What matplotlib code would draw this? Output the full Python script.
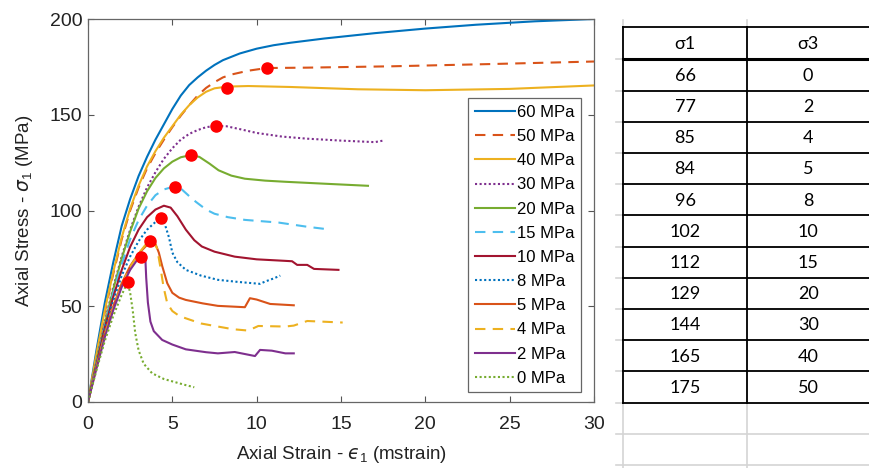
import numpy as np
import matplotlib
matplotlib.use("Agg")
import matplotlib.pyplot as plt

plt.rcParams['font.family'] = ['Liberation Sans', 'DejaVu Sans']
plt.rcParams['mathtext.fontset'] = 'custom'
plt.rcParams['mathtext.rm'] = 'Liberation Sans'
plt.rcParams['mathtext.it'] = 'DejaVu Sans:italic'

# ================= CURVE DATA (strain mstrain, stress MPa) =================
labels = ["60 MPa", "50 MPa", "40 MPa", "30 MPa", "20 MPa", "15 MPa",
          "10 MPa", "8 MPa", "5 MPa", "4 MPa", "2 MPa", "0 MPa"]

strain_60 = [0, 0.5, 1, 1.5, 2, 2.5, 3, 3.5, 4, 4.5, 5, 5.5, 6, 6.5, 7, 7.5, 8, 9, 10, 11, 12, 14, 17, 20, 23, 26.5, 30]
stress_60 = [0, 27, 52, 73, 92, 106, 118, 128, 137, 145, 153, 160, 165.5, 169.5, 173, 176, 178.5, 182, 184.5, 186.3, 187.6, 189.8, 192.6, 195, 197, 198.8, 200]

strain_50 = [0, 0.5, 1, 1.5, 2, 2.5, 3, 3.5, 4, 4.5, 5, 5.5, 6, 6.5, 7, 7.5, 8, 8.5, 9.5, 10.6, 13, 18, 24, 30]
stress_50 = [0, 24.5, 47, 67, 85, 100, 112, 122, 130, 137, 143.5, 149.5, 155, 160, 164, 167, 169.5, 171, 173, 174.4, 174.6, 175.3, 176.5, 177.8]

strain_40 = [0, 0.5, 1, 1.5, 2, 2.5, 3, 3.5, 4, 4.5, 5, 5.5, 6, 6.5, 7, 7.5, 8.25, 9.5, 12, 16, 20, 25, 30]
stress_40 = [0, 25, 48, 68, 86, 101, 113, 123, 131, 138, 144, 150, 155, 159, 162, 163.8, 164.7, 165, 164.5, 163.3, 162.8, 163.5, 165.3]

strain_30 = [0, 0.5, 1, 1.5, 2, 2.5, 3, 3.5, 4, 4.5, 5, 5.5, 6, 6.5, 7, 7.56, 8.2, 9, 10, 11.5, 13, 15, 17, 17.5]
stress_30 = [0, 21, 42, 60, 76, 90, 102, 112, 120, 127, 132.5, 137, 140, 142, 143.5, 144.2, 144, 142.5, 140.5, 138.6, 137.5, 136.5, 135.7, 136.5]

strain_20 = [0, 0.5, 1, 1.5, 2, 2.5, 3, 3.5, 4, 4.5, 5, 5.5, 6.08, 6.6, 7.2, 7.74, 8.5, 9.3, 10.5, 11.7, 14, 16.6]
stress_20 = [0, 21, 41, 59, 75, 89, 101, 110, 117, 122, 125.5, 127.8, 128.9, 128, 124.5, 121, 118.2, 116.6, 115.6, 115, 114, 112.9]

strain_15 = [0, 0.5, 1, 1.5, 2, 2.5, 3, 3.5, 4, 4.5, 5.1, 5.5, 6, 6.4, 7, 7.5, 8.3, 9.3, 11.3, 13, 14.4]
stress_15 = [0, 20, 40, 57, 72, 85, 95, 102.5, 108, 111, 112.5, 111.5, 107.5, 104.5, 100.5, 98.3, 96.5, 95.1, 93.7, 91.5, 90]

strain_10 = [0, 0.5, 1, 1.5, 2, 2.5, 3, 3.5, 4, 4.5, 4.9, 5.3, 5.8, 6.3, 6.75, 7.5, 8.7, 10, 11.7, 12.1, 12.4, 13.0, 13.4, 14.85]
stress_10 = [0, 19.5, 39, 55, 69, 81, 90, 96.5, 100.5, 102.5, 101.5, 97, 90, 84.5, 81.2, 78.5, 75.9, 74.5, 73.7, 73.5, 71.6, 71.6, 69.5, 69]

strain_8 = [0, 0.5, 1, 1.5, 2, 2.5, 3, 3.5, 4, 4.3, 4.55, 4.8, 5.0, 5.3, 5.8, 6.7, 7.7, 8.9, 10.2, 10.5, 11.0, 11.4]
stress_8 = [0, 19, 38, 53, 66, 76, 84, 90, 94, 96, 93, 86, 78, 73, 69, 66, 63.8, 62.7, 61.7, 62.9, 64.5, 66]

strain_5 = [0, 0.5, 1, 1.5, 2, 2.5, 3, 3.5, 3.8, 4.0, 4.2, 4.4, 4.7, 5.0, 5.4, 5.8, 6.8, 7.7, 9.3, 9.6, 10.0, 10.8, 12.2]
stress_5 = [0, 18.5, 36, 50, 62, 71, 77.5, 82, 83.5, 82.5, 78, 71, 62, 57, 54.5, 53.3, 51.5, 50.2, 49.5, 54.2, 53.5, 51.2, 50.5]

strain_4 = [0, 0.5, 1, 1.5, 2, 2.5, 3, 3.4, 3.65, 3.9, 4.1, 4.3, 4.48, 4.7, 5.0, 5.4, 5.8, 6.7, 7.7, 8.6, 9.5, 10.1, 11.7, 12.2, 13.0, 15.1]
stress_4 = [0, 18, 35, 49, 61, 70.5, 77.5, 82, 84.3, 84, 80, 70, 60, 51.5, 47.5, 45, 43.7, 41, 39.4, 38, 37.3, 39.7, 39.4, 39.9, 42.3, 41.5]

strain_2 = [0, 0.5, 1, 1.5, 2, 2.5, 2.9, 3.2, 3.4, 3.45, 3.55, 3.7, 3.9, 4.4, 5.0, 5.8, 7.0, 7.7, 8.7, 9.9, 10.2, 10.9, 11.7, 12.2]
stress_2 = [0, 17.5, 34, 48, 60, 69, 74, 76, 75, 65, 52, 42, 37, 32.4, 30, 27.5, 26, 25.4, 26.1, 24, 27.2, 26.8, 25.4, 25.4]

strain_0 = [0, 0.5, 1, 1.5, 2, 2.35, 2.5, 2.65, 2.8, 3.0, 3.3, 3.8, 4.5, 5.76, 6.3]
stress_0 = [0, 16.5, 32, 45, 56, 62.5, 57, 48, 36, 27, 20, 15, 12, 8.9, 7.7]

# peak points (red dots)
peak_strain = [2.35, 3.16, 3.65, 4.30, 5.13, 6.08, 7.56, 8.25, 10.6]
peak_stress = [62.5, 75.9, 84.3, 96.0, 112.5, 128.9, 144.2, 163.9, 174.4]

# ================= TABLE DATA =================
table_header = ["σ1", "σ3"]
sigma1_vals = [66, 77, 85, 84, 96, 102, 112, 129, 144, 165, 175]
sigma3_vals = [0, 2, 4, 5, 8, 10, 15, 20, 30, 40, 50]

# ================= STYLE =================
c_blue, c_orange, c_yellow = "#0072BD", "#D95319", "#EDB120"
c_purple, c_green, c_lblue, c_red = "#7E2F8E", "#77AC30", "#4DBEEE", "#A2142F"
dash = (0, (5, 3.5))
dot = (0, (1, 1.2))

series = [
    (strain_60, stress_60, c_blue, "-"),
    (strain_50, stress_50, c_orange, dash),
    (strain_40, stress_40, c_yellow, "-"),
    (strain_30, stress_30, c_purple, dot),
    (strain_20, stress_20, c_green, "-"),
    (strain_15, stress_15, c_lblue, dash),
    (strain_10, stress_10, c_red, "-"),
    (strain_8, stress_8, c_blue, dot),
    (strain_5, stress_5, c_orange, "-"),
    (strain_4, stress_4, c_yellow, dash),
    (strain_2, stress_2, c_purple, "-"),
    (strain_0, stress_0, c_green, dot),
]

fig = plt.figure(figsize=(8.69, 4.68), dpi=100)
ax = fig.add_axes([88 / 869, 66 / 468, 506 / 869, 383 / 468])

for (sx, sy, col, ls), lab in zip(series, labels):
    ax.plot(sx, sy, color=col, linestyle=ls, lw=1.5, label=lab)

ax.plot(peak_strain, peak_stress, "o", color="#FF0000", ms=8, zorder=5)

ax.set_xlim(0, 30)
ax.set_ylim(0, 200)
ax.set_xticks(np.arange(0, 31, 5))
ax.set_yticks(np.arange(0, 201, 50))
ax.tick_params(direction="in", top=True, right=True, length=4, width=0.8,
               labelsize=14, colors="#555555", labelcolor="#222222", pad=4)
ax.tick_params(axis="x", pad=10)
for sp in ax.spines.values():
    sp.set_color("#666666")
    sp.set_linewidth(0.9)

ax.set_xlabel("Axial Strain - $\u03f5_1$ (mstrain)", fontsize=13.5, color="#222222", labelpad=8)
ax.set_ylabel(r"Axial Stress - $\sigma_1$ (MPa)", fontsize=13.5, color="#222222", labelpad=11)

leg = ax.legend(loc="lower right", bbox_to_anchor=(0.975, 0.025), borderaxespad=0,
                fontsize=12, handlelength=2.4, handletextpad=0.15, labelspacing=0.55,
                borderpad=0.4, fancybox=False, framealpha=1)
leg.get_frame().set_edgecolor("#666666")
leg.get_frame().set_linewidth(0.9)

# ================= TABLE (pixel coords overlay) =================
tx = fig.add_axes([0, 0, 1, 1])
tx.set_xlim(0, 869)
tx.set_ylim(468, 0)
tx.axis("off")

x_left, x_mid, x_right = 622.7, 747.3, 869
y_top, y_head = 27.3, 59.3
row_h = 31.2
n_rows = len(sigma1_vals)
grey = "#d4d4d4"

# excel-like grid lines
for k in range(n_rows + 3):
    y = y_head + k * row_h
    tx.plot([616, x_right], [y, y], color=grey, lw=1.2)
for x in (x_left, x_mid):
    tx.plot([x, x], [20, 468], color=grey, lw=1.2)

# black table borders
tx.plot([x_left, x_right], [y_top, y_top], color="black", lw=1.3)
tx.plot([x_left, x_right], [y_head, y_head], color="black", lw=2.2)
for k in range(1, n_rows + 1):
    y = y_head + k * row_h
    tx.plot([x_left, x_right], [y, y], color="black", lw=1.3)
y_bot = y_head + n_rows * row_h
for x in (x_left, x_mid):
    tx.plot([x, x], [y_top, y_bot], color="black", lw=1.3)

tfont = ["Lato", "Noto Sans", "DejaVu Sans"]
cx1, cx2 = (x_left + x_mid) / 2, (x_mid + x_right) / 2
tx.text(cx1, (y_top + y_head) / 2 + 1, table_header[0], ha="center", va="center",
        fontsize=13, family=tfont)
tx.text(cx2, (y_top + y_head) / 2 + 1, table_header[1], ha="center", va="center",
        fontsize=13, family=tfont)
for k, (s1, s3) in enumerate(zip(sigma1_vals, sigma3_vals)):
    yc = y_head + (k + 0.5) * row_h + 1
    tx.text(cx1, yc, str(s1), ha="center", va="center", fontsize=13, family=tfont)
    tx.text(cx2, yc, str(s3), ha="center", va="center", fontsize=13, family=tfont)

fig.savefig("out.png", dpi=100)
